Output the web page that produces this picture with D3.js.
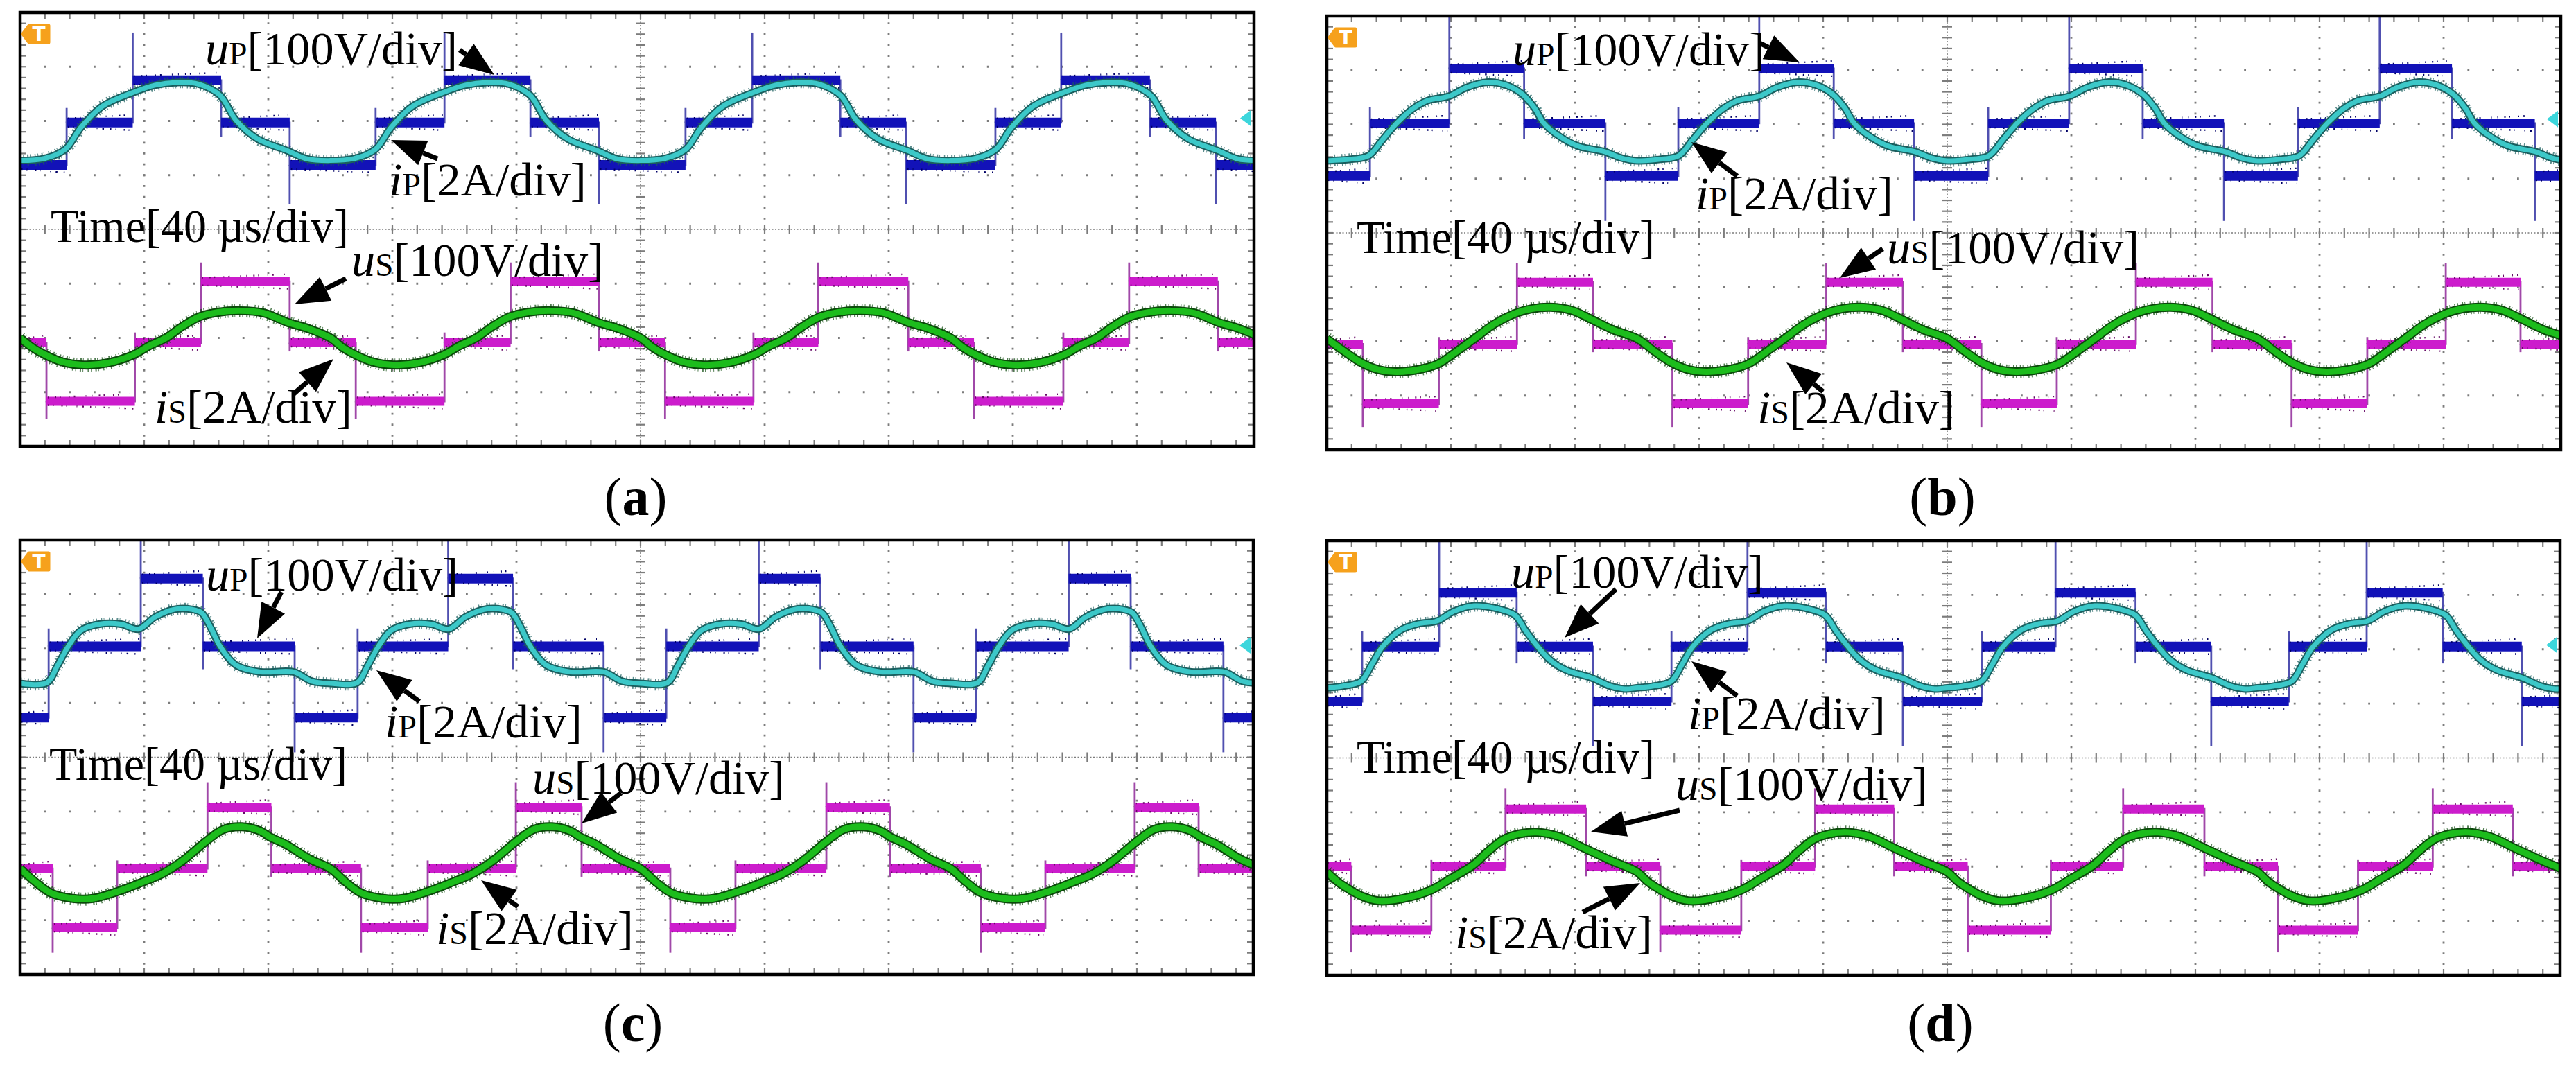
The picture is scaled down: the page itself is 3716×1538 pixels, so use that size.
<!DOCTYPE html>
<html lang="en">
<head>
<meta charset="utf-8">
<title>DAB converter waveforms</title>
<script src="https://cdn.jsdelivr.net/npm/d3@7"></script>
<style>
  body { margin: 0; background: #fff; }
  text { font-family: "Liberation Serif", "Times New Roman", serif; }
</style>
</head>
<body>
<svg id="chart" width="3716" height="1538"></svg>
<script>
// ---- data: time in us (40 us/div), amplitude in screen divisions (centre line = 0) ----
// step voltages: [time of edge, level after edge, spike tip at edge]
const upA = [[0,1.19,null],[15,1.97,2.24],[36.3,2.75,3.63],[64.8,1.97,1.70],[86.9,1.19,0.46],[114.6,1.97,2.24],[136.8,2.75,3.63],[164.5,1.97,1.70],[186.6,1.19,0.46],[214.5,1.97,2.24],[236,2.75,3.63],[264.4,1.97,1.70],[285.6,1.19,0.46],[314.4,1.97,2.24],[335.6,2.75,3.63],[364.2,1.97,1.70],[385.5,1.19,0.46],[405,1.19,null]];
const usA = [[0,-2.09,null],[8.5,-3.17,-3.5],[37,-2.09,-1.9],[58.3,-0.96,-0.61],[86.9,-2.09,-2.25],[108.2,-3.17,-3.5],[136.8,-2.09,-1.9],[158.1,-0.96,-0.61],[186.6,-2.09,-2.25],[207.9,-3.17,-3.5],[236.4,-2.09,-1.9],[257.3,-0.96,-0.61],[286.3,-2.09,-2.25],[307.5,-3.17,-3.5],[336.3,-2.09,-1.9],[357.5,-0.96,-0.61],[386.1,-2.09,-2.25],[405,-2.09,null]];
const upB = [[0,1.05,null],[13.9,2.02,2.32],[39.5,3.03,4.2],[63.6,2.02,1.73],[89.8,1.05,0.22],[113.3,2.02,2.32],[139.4,3.03,4.2],[163.4,2.02,1.73],[189.3,1.05,0.22],[213.2,2.02,2.32],[239.3,3.03,4.2],[263,2.02,1.73],[289.2,1.05,0.22],[313,2.02,2.32],[339.4,3.03,4.2],[362.7,2.02,1.73],[389.4,1.05,0.22],[405,1.05,null]];
const usB = [[0,-2.05,null],[11.6,-3.15,-3.58],[36.1,-2.05,-1.92],[61.3,-0.91,-0.56],[85.8,-2.05,-2.2],[111.4,-3.15,-3.58],[135.8,-2.05,-1.92],[161,-0.91,-0.56],[185.7,-2.05,-2.2],[211,-3.15,-3.58],[235.3,-2.05,-1.92],[260.8,-0.91,-0.56],[285.5,-2.05,-2.2],[311,-3.15,-3.58],[335.4,-2.05,-1.92],[360.7,-0.91,-0.56],[384.8,-2.05,-2.2],[405,-2.05,null]];
const upC = [[0,0.73,null],[9.2,2.04,2.37],[38.9,3.29,4.2],[58.9,2.04,1.62],[88.5,0.73,0.09],[108.8,2.04,2.37],[138,3.29,4.2],[158.9,2.04,1.62],[188.1,0.73,0.09],[208.3,2.04,2.37],[238.1,3.29,4.2],[258,2.04,1.62],[288,0.73,0.09],[308.2,2.04,2.37],[338,3.29,4.2],[358,2.04,1.62],[387.9,0.73,0.09],[405,0.73,null]];
const usC = [[0,-2.05,null],[10.5,-3.14,-3.6],[31.3,-2.05,-1.9],[60.4,-0.92,-0.46],[81,-2.05,-2.2],[109.9,-3.14,-3.6],[131.4,-2.05,-1.9],[159.8,-0.92,-0.46],[181,-2.05,-2.2],[209.6,-3.14,-3.6],[230.6,-2.05,-1.9],[259.9,-0.92,-0.46],[280.4,-2.05,-2.2],[309.7,-3.14,-3.6],[330.5,-2.05,-1.9],[359.3,-0.92,-0.46],[379.9,-2.05,-2.2],[405,-2.05,null]];
const upD = [[0,1.04,null],[11.4,2.05,2.33],[36.2,3.04,4.2],[61.2,2.05,1.74],[85.8,1.04,0.22],[111.1,2.05,2.33],[135.6,3.04,4.2],[160.9,2.05,1.74],[185.7,1.04,0.22],[211.2,2.05,2.33],[234.9,3.04,4.2],[260.7,2.05,1.74],[285.1,1.04,0.22],[310.1,2.05,2.33],[335.2,3.04,4.2],[359.7,2.05,1.74],[385.2,1.04,0.22],[405,1.04,null]];
const usD = [[0,-2.0,null],[7.9,-3.17,-3.58],[33.7,-2.0,-1.88],[57.6,-0.94,-0.56],[83.6,-2.0,-2.18],[107.5,-3.17,-3.58],[133.6,-2.0,-1.88],[157.4,-0.94,-0.56],[182.9,-2.0,-2.18],[206.6,-3.17,-3.58],[233.4,-2.0,-1.88],[256.7,-0.94,-0.56],[282.9,-2.0,-2.18],[306.6,-3.17,-3.58],[332.4,-2.0,-1.88],[356.5,-0.94,-0.56],[382.3,-2.0,-2.18],[405,-2.0,null]];

// currents: [time, level]
const ipA = [[0,1.27],[8,1.31],[14.6,1.48],[19.6,1.88],[26.5,2.27],[36.2,2.52],[43.5,2.66],[50.5,2.71],[57.5,2.68],[64.5,2.47],[69.5,2.02],[76.5,1.67],[86.2,1.45],[92.5,1.3],
  [100,1.27],[108,1.31],[114.6,1.48],[119.6,1.88],[126.5,2.27],[136.2,2.52],[143.5,2.66],[150.5,2.71],[157.5,2.68],[164.5,2.47],[169.5,2.02],[176.5,1.67],[186.2,1.45],[192.5,1.3],
  [200,1.27],[208,1.31],[214.6,1.48],[219.6,1.88],[226.5,2.27],[236.2,2.52],[243.5,2.66],[250.5,2.71],[257.5,2.68],[264.5,2.47],[269.5,2.02],[276.5,1.67],[286.2,1.45],[292.5,1.3],
  [300,1.27],[308,1.31],[314.6,1.48],[319.6,1.88],[326.5,2.27],[336.2,2.52],[343.5,2.66],[350.5,2.71],[357.5,2.68],[364.5,2.47],[369.5,2.02],[376.5,1.67],[386.2,1.45],[392.5,1.3],[400,1.27],[408,1.31]];
const isA = [[0,-2.0],[4,-2.18],[8,-2.31],[13.5,-2.44],[20.5,-2.5],[28.5,-2.46],[36.6,-2.31],[41.5,-2.15],[47,-2.0],[52.5,-1.78],[57.8,-1.61],[63.5,-1.53],[71,-1.5],[78.5,-1.54],[86.5,-1.72],[92.5,-1.82],
  [100,-2.0],[104,-2.18],[108,-2.31],[113.5,-2.44],[120.5,-2.5],[128.5,-2.46],[136.6,-2.31],[141.5,-2.15],[147,-2.0],[152.5,-1.78],[157.8,-1.61],[163.5,-1.53],[171,-1.5],[178.5,-1.54],[186.5,-1.72],[192.5,-1.82],
  [200,-2.0],[204,-2.18],[208,-2.31],[213.5,-2.44],[220.5,-2.5],[228.5,-2.46],[236.6,-2.31],[241.5,-2.15],[247,-2.0],[252.5,-1.78],[257.8,-1.61],[263.5,-1.53],[271,-1.5],[278.5,-1.54],[286.5,-1.72],[292.5,-1.82],
  [300,-2.0],[304,-2.18],[308,-2.31],[313.5,-2.44],[320.5,-2.5],[328.5,-2.46],[336.6,-2.31],[341.5,-2.15],[347,-2.0],[352.5,-1.78],[357.8,-1.61],[363.5,-1.53],[371,-1.5],[378.5,-1.54],[386.5,-1.72],[392.5,-1.82],[400,-2.0],[404,-2.18]];
const ipB = [[0,1.33],[8,1.36],[13.4,1.42],[18,1.72],[22.5,2.02],[27.5,2.28],[32.5,2.44],[39.4,2.52],[45,2.68],[52,2.78],[58,2.72],[63.2,2.55],[67,2.3],[70,2.02],[75,1.78],[81,1.6],[89.4,1.5],[95,1.38],
  [100,1.33],[108,1.36],[113.4,1.42],[118,1.72],[122.5,2.02],[127.5,2.28],[132.5,2.44],[139.4,2.52],[145,2.68],[152,2.78],[158,2.72],[163.2,2.55],[167,2.3],[170,2.02],[175,1.78],[181,1.6],[189.4,1.5],[195,1.38],
  [200,1.33],[208,1.36],[213.4,1.42],[218,1.72],[222.5,2.02],[227.5,2.28],[232.5,2.44],[239.4,2.52],[245,2.68],[252,2.78],[258,2.72],[263.2,2.55],[267,2.3],[270,2.02],[275,1.78],[281,1.6],[289.4,1.5],[295,1.38],
  [300,1.33],[308,1.36],[313.4,1.42],[318,1.72],[322.5,2.02],[327.5,2.28],[332.5,2.44],[339.4,2.52],[345,2.68],[352,2.78],[358,2.72],[363.2,2.55],[367,2.3],[370,2.02],[375,1.78],[381,1.6],[389.4,1.5],[395,1.38],[400,1.33],[408,1.36]];
const isB = [[0,-1.95],[6,-2.2],[11.3,-2.4],[16.5,-2.52],[21.5,-2.56],[28.5,-2.53],[35.7,-2.42],[42,-2.18],[48,-1.93],[54,-1.68],[61,-1.48],[66,-1.4],[72,-1.37],[79,-1.43],[85.5,-1.6],[92,-1.78],
  [100,-1.95],[106,-2.2],[111.3,-2.4],[116.5,-2.52],[121.5,-2.56],[128.5,-2.53],[135.7,-2.42],[142,-2.18],[148,-1.93],[154,-1.68],[161,-1.48],[166,-1.4],[172,-1.37],[179,-1.43],[185.5,-1.6],[192,-1.78],
  [200,-1.95],[206,-2.2],[211.3,-2.4],[216.5,-2.52],[221.5,-2.56],[228.5,-2.53],[235.7,-2.42],[242,-2.18],[248,-1.93],[254,-1.68],[261,-1.48],[266,-1.4],[272,-1.37],[279,-1.43],[285.5,-1.6],[292,-1.78],
  [300,-1.95],[306,-2.2],[311.3,-2.4],[316.5,-2.52],[321.5,-2.56],[328.5,-2.53],[335.7,-2.42],[342,-2.18],[348,-1.93],[354,-1.68],[361,-1.48],[366,-1.4],[372,-1.37],[379,-1.43],[385.5,-1.6],[392,-1.78],[400,-1.95],[406,-2.2]];
const ipC = [[0,1.36],[8.6,1.37],[12,1.68],[15.5,2.04],[19.5,2.33],[25.5,2.45],[32.5,2.45],[38.2,2.36],[43.5,2.58],[49.5,2.72],[55.5,2.72],[58.5,2.66],[61.5,2.38],[64.5,2.04],[69.5,1.7],[77.5,1.57],[88.1,1.57],[94,1.4],
  [100,1.36],[108.6,1.37],[112,1.68],[115.5,2.04],[119.5,2.33],[125.5,2.45],[132.5,2.45],[138.2,2.36],[143.5,2.58],[149.5,2.72],[155.5,2.72],[158.5,2.66],[161.5,2.38],[164.5,2.04],[169.5,1.7],[177.5,1.57],[188.1,1.57],[194,1.4],
  [200,1.36],[208.6,1.37],[212,1.68],[215.5,2.04],[219.5,2.33],[225.5,2.45],[232.5,2.45],[238.2,2.36],[243.5,2.58],[249.5,2.72],[255.5,2.72],[258.5,2.66],[261.5,2.38],[264.5,2.04],[269.5,1.7],[277.5,1.57],[288.1,1.57],[294,1.4],
  [300,1.36],[308.6,1.37],[312,1.68],[315.5,2.04],[319.5,2.33],[325.5,2.45],[332.5,2.45],[338.2,2.36],[343.5,2.58],[349.5,2.72],[355.5,2.72],[358.5,2.66],[361.5,2.38],[364.5,2.04],[369.5,1.7],[377.5,1.57],[388.1,1.57],[394,1.4],[400,1.36],[408.6,1.37]];
const isC = [[0,-2.05],[5,-2.3],[9.9,-2.5],[17,-2.6],[23.5,-2.6],[31,-2.48],[38.5,-2.32],[46,-2.14],[52.5,-1.9],[59.9,-1.55],[65.5,-1.33],[71.5,-1.28],[77.5,-1.36],[80.6,-1.47],[85.5,-1.6],[93.5,-1.88],
  [100,-2.05],[105,-2.3],[109.9,-2.5],[117,-2.6],[123.5,-2.6],[131,-2.48],[138.5,-2.32],[146,-2.14],[152.5,-1.9],[159.9,-1.55],[165.5,-1.33],[171.5,-1.28],[177.5,-1.36],[180.6,-1.47],[185.5,-1.6],[193.5,-1.88],
  [200,-2.05],[205,-2.3],[209.9,-2.5],[217,-2.6],[223.5,-2.6],[231,-2.48],[238.5,-2.32],[246,-2.14],[252.5,-1.9],[259.9,-1.55],[265.5,-1.33],[271.5,-1.28],[277.5,-1.36],[280.6,-1.47],[285.5,-1.6],[293.5,-1.88],
  [300,-2.05],[305,-2.3],[309.9,-2.5],[317,-2.6],[323.5,-2.6],[331,-2.48],[338.5,-2.32],[346,-2.14],[352.5,-1.9],[359.9,-1.55],[365.5,-1.33],[371.5,-1.28],[377.5,-1.36],[380.6,-1.47],[385.5,-1.6],[393.5,-1.88],[400,-2.05],[405,-2.3]];
const ipD = [[0,1.29],[5,1.32],[11,1.41],[14.5,1.72],[18,2.05],[24,2.36],[29.5,2.47],[35.5,2.52],[41,2.7],[47.5,2.8],[54,2.76],[60.6,2.63],[64,2.35],[68,2.05],[72,1.8],[77,1.62],[85.5,1.47],[91,1.33],[96,1.27],
  [100,1.29],[105,1.32],[111,1.41],[114.5,1.72],[118,2.05],[124,2.36],[129.5,2.47],[135.5,2.52],[141,2.7],[147.5,2.8],[154,2.76],[160.6,2.63],[164,2.35],[168,2.05],[172,1.8],[177,1.62],[185.5,1.47],[191,1.33],[196,1.27],
  [200,1.29],[205,1.32],[211,1.41],[214.5,1.72],[218,2.05],[224,2.36],[229.5,2.47],[235.5,2.52],[241,2.7],[247.5,2.8],[254,2.76],[260.6,2.63],[264,2.35],[268,2.05],[272,1.8],[277,1.62],[285.5,1.47],[291,1.33],[296,1.27],
  [300,1.29],[305,1.32],[311,1.41],[314.5,1.72],[318,2.05],[324,2.36],[329.5,2.47],[335.5,2.52],[341,2.7],[347.5,2.8],[354,2.76],[360.6,2.63],[364,2.35],[368,2.05],[372,1.8],[377,1.62],[385.5,1.47],[391,1.33],[396,1.27],[400,1.29],[405,1.32]];
const isD = [[0,-2.1],[3.5,-2.28],[7.2,-2.42],[11.5,-2.55],[16.5,-2.63],[23.5,-2.6],[33.3,-2.44],[40,-2.22],[47,-1.98],[52,-1.72],[57,-1.5],[62,-1.4],[68,-1.37],[75,-1.45],[82.9,-1.66],[92,-1.9],
  [100,-2.1],[103.5,-2.28],[107.2,-2.42],[111.5,-2.55],[116.5,-2.63],[123.5,-2.6],[133.3,-2.44],[140,-2.22],[147,-1.98],[152,-1.72],[157,-1.5],[162,-1.4],[168,-1.37],[175,-1.45],[182.9,-1.66],[192,-1.9],
  [200,-2.1],[203.5,-2.28],[207.2,-2.42],[211.5,-2.55],[216.5,-2.63],[223.5,-2.6],[233.3,-2.44],[240,-2.22],[247,-1.98],[252,-1.72],[257,-1.5],[262,-1.4],[268,-1.37],[275,-1.45],[282.9,-1.66],[292,-1.9],
  [300,-2.1],[303.5,-2.28],[307.2,-2.42],[311.5,-2.55],[316.5,-2.63],[323.5,-2.6],[333.3,-2.44],[340,-2.22],[347,-1.98],[352,-1.72],[357,-1.5],[362,-1.4],[368,-1.37],[375,-1.45],[382.9,-1.66],[392,-1.9],[400,-2.1],[403.5,-2.28]];

const panelNames = ['a', 'b', 'c', 'd'];
const refLevel = [2.05, 2.1, 2.06, 2.08];   // cyan ground marker, divisions
const timeText = 'Time[40 \u00b5s/div]';

// ---- layout ----
const W = 3716, H = 1538;
const DIV_X = 179;
const boxes = {
  a: {x: 29, y: 18, w: 1780, h: 626},
  b: {x: 1914, y: 23, w: 1780, h: 626},
  c: {x: 29, y: 779, w: 1779, h: 627},
  d: {x: 1914, y: 780, w: 1779, h: 627}
};
const captions = {a: [917, 743], b: [2802, 743], c: [913, 1502], d: [2799, 1502]};
// reference widths of the wide Palatino labels
const labelLen = {u: 364, i: 285, time: 430};
// annotation offsets inside each panel (px from top-left of frame)
const notes = {
  a: {up: [267, 75], upArr: [634, 54, 684, 90], ip: [532, 264], ipArr: [602, 211, 535, 184], time: [44, 331],
      us: [478, 380], usArr: [470, 384, 396, 421], is: [194, 592], isArr: [395, 550, 452, 500]},
  b: {up: [268, 71], upArr: [624, 39, 682, 67], ip: [532, 279], ipArr: [592, 231, 526, 182], time: [43, 342],
      us: [808, 357], usArr: [802, 336, 740, 378], is: [621, 588], isArr: [716, 542, 663, 500]},
  c: {up: [268, 73], upArr: [377, 75, 342, 142], ip: [526, 285], ipArr: [576, 233, 514, 188], time: [42, 346],
      us: [739, 366], usArr: [867, 365, 810, 409], is: [600, 583], isArr: [718, 529, 665, 491]},
  d: {up: [266, 68], upArr: [417, 70, 343, 140], ip: [521, 272], ipArr: [592, 224, 526, 174], time: [43, 335],
      us: [503, 374], usArr: [509, 389, 381, 420], is: [185, 588], isArr: [369, 536, 452, 494]}
};

const colBlue = {band: '#1212b8', thin: '#5050b0', fuzz: '#000066', w: 14};
const colMag = {band: '#cc1ccc', thin: '#a048a8', fuzz: '#660a66', w: 13};
const colCyan = {core: '#3cc8c8', fringe: '#1a5e5e', w: 7};
const colGreen = {core: '#1cbc1c', fringe: '#0b480b', w: 9};

const svg = d3.select('#chart');
svg.append('rect').attr('width', W).attr('height', H).attr('fill', '#fff');
const defs = svg.append('defs');

const panels = panelNames.map((id, i) => ({
  id, box: boxes[id], note: notes[id], ref: refLevel[i],
  up: [upA, upB, upC, upD][i], ip: [ipA, ipB, ipC, ipD][i],
  us: [usA, usB, usC, usD][i], is: [isA, isB, isC, isD][i]
}));

function stepTrace(g, x, y, data, c) {
  const line = d3.line().x(d => x(d[0])).y(d => y(d[1])).curve(d3.curveStepAfter);
  g.append('path').datum(data).attr('d', line)
    .attr('fill', 'none').attr('stroke', c.thin).attr('stroke-width', 2.8);
  g.append('g').selectAll('line').data(data.filter(d => d[2] != null)).join('line')
    .attr('x1', d => x(d[0])).attr('x2', d => x(d[0]))
    .attr('y1', d => y(d[1])).attr('y2', d => y(d[2]))
    .attr('stroke', c.thin).attr('stroke-width', 2.8);
  const segs = d3.pairs(data);
  const bands = g.append('g');
  bands.append('g').selectAll('line').data(segs).join('line')
    .attr('x1', p => x(p[0][0])).attr('x2', p => x(p[1][0]))
    .attr('y1', p => y(p[0][1])).attr('y2', p => y(p[0][1]))
    .attr('stroke', c.band).attr('stroke-width', c.w);
  [-1, 1].forEach((s, k) => {
    bands.append('g').selectAll('line').data(segs).join('line')
      .attr('x1', p => x(p[0][0]) + 2).attr('x2', p => x(p[1][0]) - 2)
      .attr('y1', p => y(p[0][1]) + s * (c.w / 2 - 1))
      .attr('y2', p => y(p[0][1]) + s * (c.w / 2 + 4))
      .attr('stroke', c.fuzz).attr('stroke-width', 2.4)
      .attr('stroke-dasharray', k ? '1.5 6 1 11 2 5 1 14 1 7 2.5 9' : '1 9 2 5 1.5 12 1 6 2 15 1 8');
  });
}

function smoothTrace(g, x, y, data, c) {
  const line = d3.line().x(d => x(d[0])).y(d => y(d[1])).curve(d3.curveCatmullRom.alpha(0.5));
  g.append('path').datum(data).attr('d', line).attr('fill', 'none')
    .attr('stroke', c.fringe).attr('stroke-width', c.w + 10)
    .attr('stroke-dasharray', '1.5 3 1 5 2 2 1 6').attr('opacity', 0.7);
  g.append('path').datum(data).attr('d', line).attr('fill', 'none')
    .attr('stroke', c.fringe).attr('stroke-width', c.w + 4);
  g.append('path').datum(data).attr('d', line).attr('fill', 'none')
    .attr('stroke', c.core).attr('stroke-width', c.w);
}

function sigLabel(g, px, py, sym, sub, rest, len) {
  const t = g.append('text').attr('x', px).attr('y', py).attr('font-size', 68).attr('fill', '#000')
    .attr('textLength', len).attr('lengthAdjust', 'spacingAndGlyphs');
  t.append('tspan').attr('font-style', 'italic').text(sym);
  t.append('tspan').attr('font-size', 47).text(sub);
  t.append('tspan').text(rest);
}

function arrow(g, ox, oy, a) {
  const x1 = ox + a[0], y1 = oy + a[1], x2 = ox + a[2], y2 = oy + a[3];
  const ang = Math.atan2(y2 - y1, x2 - x1), L = 50, hw = 19;
  const bx = x2 - L * Math.cos(ang), by = y2 - L * Math.sin(ang);
  g.append('line').attr('x1', x1).attr('y1', y1).attr('x2', bx).attr('y2', by)
    .attr('stroke', '#000').attr('stroke-width', 7);
  g.append('path')
    .attr('d', `M${x2},${y2}L${bx - hw * Math.sin(ang)},${by + hw * Math.cos(ang)}L${bx + hw * Math.sin(ang)},${by - hw * Math.cos(ang)}Z`)
    .attr('fill', '#000');
}

panels.forEach(p => {
  const b = p.box;
  const x = d3.scaleLinear().domain([0, 400]).range([b.x, b.x + 10 * DIV_X]);
  const y = d3.scaleLinear().domain([-4, 4]).range([b.y + b.h, b.y]);
  const subX = DIV_X / 5, subY = b.h / 40;
  const clipId = 'clip-' + p.id;
  defs.append('clipPath').attr('id', clipId)
    .append('rect').attr('x', b.x).attr('y', b.y).attr('width', b.w).attr('height', b.h);

  const g = svg.append('g').attr('class', 'panel-' + p.id);
  const body = g.append('g').attr('clip-path', `url(#${clipId})`);
  const grid = body.append('g').attr('stroke', '#7c7c7c');

  // dotted graticule
  grid.selectAll('line.v').data(d3.range(40, 400, 40).filter(t => t !== 200)).join('line')
    .attr('class', 'v').attr('x1', t => x(t)).attr('x2', t => x(t))
    .attr('y1', b.y).attr('y2', b.y + b.h)
    .attr('stroke-width', 2.8).attr('stroke-dasharray', `2.8 ${subY - 2.8}`).attr('stroke-dashoffset', 1.4);
  grid.selectAll('line.h').data([-3, -2, -1, 1, 2, 3]).join('line')
    .attr('class', 'h').attr('x1', b.x).attr('x2', b.x + b.w)
    .attr('y1', v => y(v)).attr('y2', v => y(v))
    .attr('stroke-width', 2.8).attr('stroke-dasharray', `2.8 ${subX - 2.8}`).attr('stroke-dashoffset', 1.4);

  // centre axes with minor ticks
  const cx = x(200), cy = y(0);
  grid.append('line').attr('x1', b.x).attr('x2', b.x + b.w).attr('y1', cy).attr('y2', cy)
    .attr('stroke-width', 1.6).attr('stroke-dasharray', '2 2.5');
  grid.append('line').attr('x1', cx).attr('x2', cx).attr('y1', b.y).attr('y2', b.y + b.h)
    .attr('stroke-width', 1.6).attr('stroke-dasharray', '2 2.5');
  grid.selectAll('line.tx').data(d3.range(0, 51)).join('line').attr('class', 'tx')
    .attr('x1', k => b.x + k * subX).attr('x2', k => b.x + k * subX)
    .attr('y1', cy - 7).attr('y2', cy + 7).attr('stroke-width', 2.2);
  grid.selectAll('line.ty').data(d3.range(0, 41)).join('line').attr('class', 'ty')
    .attr('x1', cx - 7).attr('x2', cx + 7)
    .attr('y1', k => b.y + k * subY).attr('y2', k => b.y + k * subY).attr('stroke-width', 2.2);
  // ticks along the frame edges
  grid.selectAll('line.et').data(d3.range(0, 51)).join('line').attr('class', 'et')
    .attr('x1', k => b.x + k * subX).attr('x2', k => b.x + k * subX)
    .attr('y1', b.y).attr('y2', b.y + 9).attr('stroke-width', 2.2);
  grid.selectAll('line.eb').data(d3.range(0, 51)).join('line').attr('class', 'eb')
    .attr('x1', k => b.x + k * subX).attr('x2', k => b.x + k * subX)
    .attr('y1', b.y + b.h - 9).attr('y2', b.y + b.h).attr('stroke-width', 2.2);
  grid.selectAll('line.el').data(d3.range(0, 41)).join('line').attr('class', 'el')
    .attr('x1', b.x).attr('x2', b.x + 9)
    .attr('y1', k => b.y + k * subY).attr('y2', k => b.y + k * subY).attr('stroke-width', 2.2);
  grid.selectAll('line.er').data(d3.range(0, 41)).join('line').attr('class', 'er')
    .attr('x1', b.x + b.w - 9).attr('x2', b.x + b.w)
    .attr('y1', k => b.y + k * subY).attr('y2', k => b.y + k * subY).attr('stroke-width', 2.2);

  // traces
  stepTrace(body.append('g'), x, y, p.up, colBlue);
  smoothTrace(body.append('g'), x, y, p.ip, colCyan);
  stepTrace(body.append('g'), x, y, p.us, colMag);
  smoothTrace(body.append('g'), x, y, p.is, colGreen);

  // frame
  g.append('rect').attr('x', b.x).attr('y', b.y).attr('width', b.w).attr('height', b.h)
    .attr('fill', 'none').attr('stroke', '#000').attr('stroke-width', 4.5);

  // trigger icon
  const tx = b.x + 4, ty = b.y + 31;
  g.append('path')
    .attr('d', `M${tx},${ty}L${tx + 9},${ty - 12}H${tx + 37}V${ty + 12}H${tx + 9}Z`)
    .attr('fill', '#f6a11c').attr('stroke', '#f6a11c').attr('stroke-width', 5).attr('stroke-linejoin', 'round');
  g.append('text').attr('x', tx + 23).attr('y', ty + 10).attr('text-anchor', 'middle')
    .attr('font-size', 28).attr('font-weight', 'bold').attr('fill', '#fff')
    .style('font-family', 'DejaVu Sans, sans-serif').text('T');

  // cyan ground marker
  const my = y(p.ref), mx = b.x + b.w - 4;
  g.append('path').attr('d', `M${mx - 16},${my}L${mx},${my - 12}L${mx},${my + 12}Z`).attr('fill', '#3cd6dc');

  // annotations
  const n = p.note, ox = b.x, oy = b.y;
  sigLabel(g, ox + n.up[0], oy + n.up[1], 'u', 'P', '[100V/div]', labelLen.u);
  sigLabel(g, ox + n.ip[0], oy + n.ip[1], 'i', 'P', '[2A/div]', labelLen.i);
  sigLabel(g, ox + n.us[0], oy + n.us[1], 'u', 'S', '[100V/div]', labelLen.u);
  sigLabel(g, ox + n.is[0], oy + n.is[1], 'i', 'S', '[2A/div]', labelLen.i);
  g.append('text').attr('x', ox + n.time[0]).attr('y', oy + n.time[1]).attr('font-size', 68)
    .attr('textLength', labelLen.time).attr('lengthAdjust', 'spacingAndGlyphs').text(timeText);
  arrow(g, ox, oy, n.upArr);
  arrow(g, ox, oy, n.ipArr);
  arrow(g, ox, oy, n.usArr);
  arrow(g, ox, oy, n.isArr);

  // caption
  const cap = g.append('text').attr('x', captions[p.id][0]).attr('y', captions[p.id][1])
    .attr('text-anchor', 'middle').attr('font-size', 78);
  cap.append('tspan').text('(');
  cap.append('tspan').attr('font-weight', 'bold').text(p.id);
  cap.append('tspan').text(')');
});
</script>
</body>
</html>
